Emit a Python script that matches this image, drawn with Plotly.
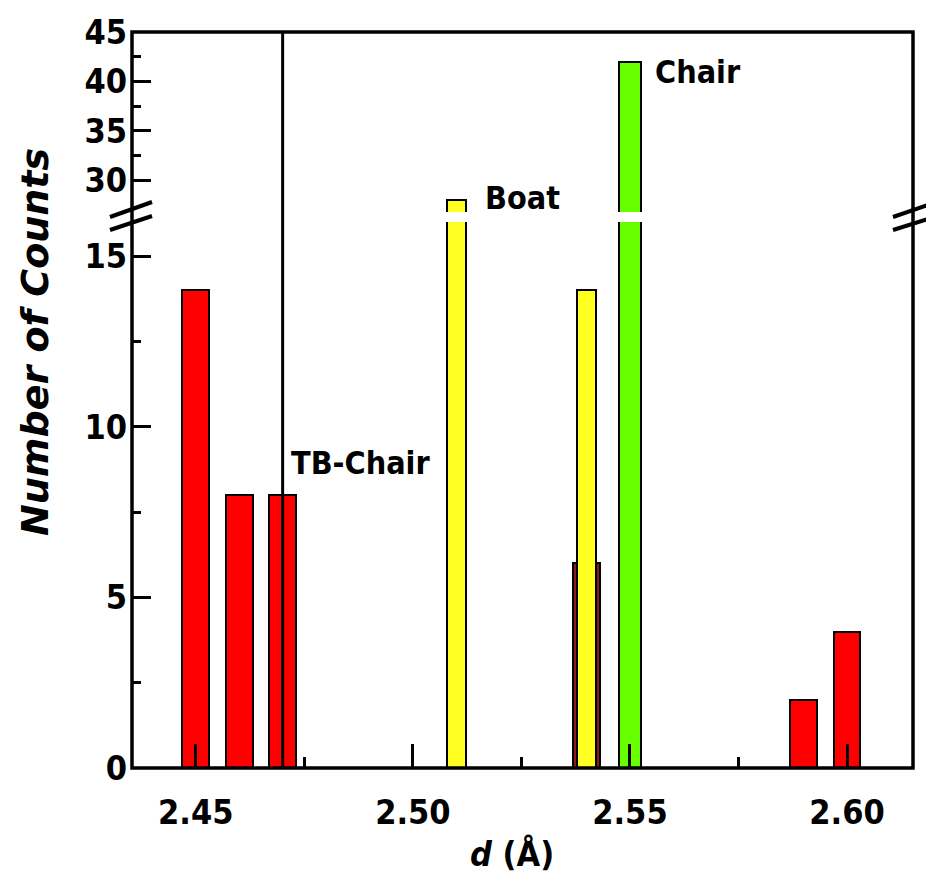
import plotly.graph_objects as go

# ---- data ----
red_d = [2.45, 2.46, 2.47, 2.54, 2.59, 2.60]
red_counts = [14, 8, 8, 6, 2, 4]
red_colors = ["#ff0000", "#ff0000", "#ff0000", "#8b1a1a", "#ff0000", "#ff0000"]
yellow_d = [2.51, 2.54]
yellow_counts = [28, 14]
green_d = [2.55]
green_counts = [42]
tb_chair_line = 2.47

x_ticks = [2.45, 2.50, 2.55, 2.60]
x_ticktext = ["2.45", "2.50", "2.55", "2.60"]
y_low_ticks = [0, 5, 10, 15]
y_high_ticks = [30, 35, 40, 45]

# page has an 8px body margin; work in reference pixel coords and offset
OFF = 8
W, H = 934 - OFF, 876 - OFF
L, R, T, B = 132 - OFF, 21, 32 - OFF, 108
PW, PH = W - L - R, H - T - B

def px(xp):  # reference pixel x -> paper
    return (xp - 132) / PW

def py(yp):  # reference pixel y -> paper
    return (768 - yp) / PH

tick_font = dict(family="DejaVu Sans Condensed, DejaVu Sans", size=34, color="black", weight="bold")

fig = go.Figure()
for ya in ["y", "y2"]:
    fig.add_trace(go.Bar(x=red_d, y=red_counts, width=0.0062, yaxis=ya,
                         marker=dict(color=red_colors, line=dict(color="black", width=2)),
                         showlegend=False))
    fig.add_trace(go.Bar(x=yellow_d, y=yellow_counts, width=0.0044, yaxis=ya,
                         marker=dict(color="#ffff22", line=dict(color="black", width=2)),
                         showlegend=False))
    fig.add_trace(go.Bar(x=green_d, y=green_counts, width=0.005, yaxis=ya,
                         marker=dict(color="#66ff00", line=dict(color="black", width=2)),
                         showlegend=False))

low_top = py(222)
high_bot = py(212)

fig.update_layout(
    width=W, height=H,
    margin=dict(l=L, r=R, t=T, b=B, autoexpand=False),
    paper_bgcolor="white", plot_bgcolor="white",
    barmode="overlay",
    bargap=0,
    xaxis=dict(range=[2.4353, 2.6152], tickmode="array", tickvals=x_ticks, ticktext=x_ticktext,
               ticks="inside", ticklen=24, tickwidth=3, tickcolor="black", automargin=False,
               showgrid=False, zeroline=False, showline=False, tickfont=tick_font,
               ticklabelstandoff=21,
               minor=dict(tickmode="array", tickvals=[2.475, 2.525, 2.575], ticks="inside",
                          ticklen=11, tickwidth=3, tickcolor="black", showgrid=False),
               anchor="y"),
    yaxis=dict(domain=[0, low_top], range=[0, 16], tickmode="array", tickvals=y_low_ticks,
               ticks="inside", ticklen=19, tickwidth=3, tickcolor="black", automargin=False,
               showgrid=False, zeroline=False, showline=False, tickfont=tick_font,
               ticklabelstandoff=4,
               minor=dict(tickmode="array", tickvals=[2.5, 7.5, 12.5], ticks="inside",
                          ticklen=9, tickwidth=3, tickcolor="black", showgrid=False),
               anchor="x"),
    yaxis2=dict(domain=[high_bot, 1], range=[26.76, 45], tickmode="array", tickvals=y_high_ticks,
                ticks="inside", ticklen=19, tickwidth=3, tickcolor="black", automargin=False,
                showgrid=False, zeroline=False, showline=False, tickfont=tick_font,
                ticklabelstandoff=4,
                minor=dict(tickmode="array", tickvals=[32.5, 37.5, 42.5], ticks="inside",
                           ticklen=9, tickwidth=3, tickcolor="black", showgrid=False),
                anchor="x"),
)

shapes = []
# frame
shapes.append(dict(type="rect", xref="paper", yref="paper", x0=0, x1=1, y0=0, y1=1,
                   line=dict(color="black", width=3.5), layer="above"))
# vertical line
shapes.append(dict(type="line", xref="x", yref="paper", x0=tb_chair_line, x1=tb_chair_line,
                   y0=0, y1=1, line=dict(color="black", width=3), layer="above"))
# break marks
for (x0, y0, x1, y1) in [(110, 217, 152, 202), (110, 230, 152, 216),
                         (893, 217, 934, 203), (893, 230, 934, 217)]:
    shapes.append(dict(type="line", xref="paper", yref="paper", x0=px(x0), y0=py(y0),
                       x1=px(x1), y1=py(y1), line=dict(color="black", width=4), layer="above"))
fig.update_layout(shapes=shapes)

lab_font = dict(family="DejaVu Sans Condensed, DejaVu Sans", size=32, color="black", weight="bold")
fig.add_annotation(x=2.4715, y=8.95, xref="x", yref="y", text="TB-Chair", showarrow=False,
                   xanchor="left", yanchor="middle", font=lab_font)
fig.add_annotation(x=2.5161, y=28.2, xref="x", yref="y2", text="Boat", showarrow=False,
                   xanchor="left", yanchor="middle", font=lab_font)
fig.add_annotation(x=2.5553, y=40.95, xref="x", yref="y2", text="Chair", showarrow=False,
                   xanchor="left", yanchor="middle", font=lab_font)

fig.add_annotation(x=px(35), y=py(342), xref="paper", yref="paper", text="<i>Number of Counts</i>",
                   showarrow=False, textangle=-90, xanchor="center", yanchor="middle",
                   font=dict(family="DejaVu Sans", size=38, color="black", weight="bold"))
fig.add_annotation(x=px(512), y=py(854), xref="paper", yref="paper", text="<i>d</i> (Å)",
                   showarrow=False, xanchor="center", yanchor="middle",
                   font=dict(family="DejaVu Sans Condensed, DejaVu Sans", size=34, color="black", weight="bold"))

fig.write_html("out.html")
